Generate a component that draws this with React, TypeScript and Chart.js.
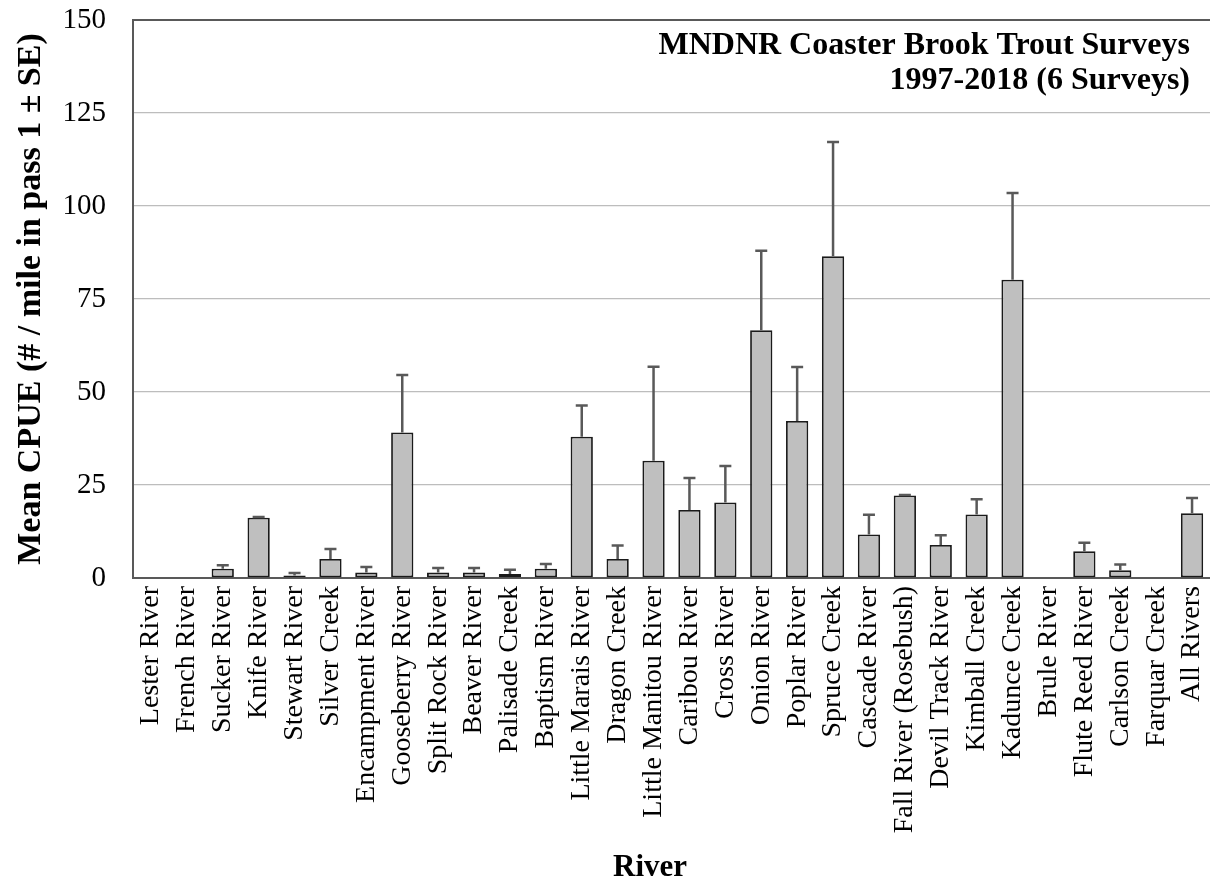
import React, { useEffect, useRef } from "react";
import { Chart, registerables } from "chart.js";

Chart.register(...registerables);

const rivers = [
  "Lester River",
  "French River",
  "Sucker River",
  "Knife River",
  "Stewart River",
  "Silver Creek",
  "Encampment River",
  "Gooseberry River",
  "Split Rock River",
  "Beaver River",
  "Palisade Creek",
  "Baptism River",
  "Little Marais River",
  "Dragon Creek",
  "Little Manitou River",
  "Caribou River",
  "Cross River",
  "Onion River",
  "Poplar River",
  "Spruce Creek",
  "Cascade River",
  "Fall River (Rosebush)",
  "Devil Track River",
  "Kimball Creek",
  "Kadunce Creek",
  "Brule River",
  "Flute Reed River",
  "Carlson Creek",
  "Farquar Creek",
  "All Rivers",
];

const meanCpue = [
  0, 0, 2.5, 16.2, 0.7, 5.1, 1.45, 39.1, 1.45, 1.45, 1.1, 2.5, 38.0, 5.1, 31.5,
  18.3, 20.3, 66.6, 42.2, 86.5, 11.7, 22.2, 8.9, 17.1, 80.2, 0, 7.2, 2.05, 0, 17.4,
];

const seCpue = [
  0, 0, 0.9, 0.2, 0.65, 2.7, 1.5, 15.5, 1.25, 1.25, 1.15, 1.25, 8.4, 3.65, 25.3,
  8.6, 9.8, 21.4, 14.5, 30.7, 5.3, 0.1, 2.6, 4.1, 23.3, 0, 2.3, 1.6, 0, 4.1,
];

const yTickValues = [0, 25, 50, 75, 100, 125, 150];
const titleLines = ["MNDNR Coaster Brook Trout Surveys", "1997-2018 (6 Surveys)"];
const xAxisTitle = "River";
const yAxisTitle = "Mean CPUE (# / mile in pass 1 \u00B1 SE)";

const SERIF = "'Liberation Serif', 'Times New Roman', serif";

const errorBarPlugin = {
  id: "errorBars",
  afterDatasetsDraw(chart: any) {
    const ctx = chart.ctx;
    const yScale = chart.scales.y;
    const meta = chart.getDatasetMeta(0);
    ctx.save();
    ctx.strokeStyle = "#595959";
    ctx.lineWidth = 2.5;
    meta.data.forEach((bar: any, i: number) => {
      const m = meanCpue[i];
      const se = seCpue[i];
      if (!m && !se) return;
      const x = bar.x;
      const yTop = yScale.getPixelForValue(m + se);
      const yBase = yScale.getPixelForValue(m);
      ctx.beginPath();
      ctx.moveTo(x, yBase);
      ctx.lineTo(x, yTop);
      ctx.moveTo(x - 6, yTop);
      ctx.lineTo(x + 6, yTop);
      ctx.stroke();
    });
    ctx.restore();
  },
};

const framePlugin = {
  id: "frameAndTitles",
  afterDraw(chart: any) {
    const ctx = chart.ctx;
    const area = chart.chartArea;
    ctx.save();
    ctx.strokeStyle = "#595959";
    ctx.lineWidth = 2;
    ctx.beginPath();
    ctx.moveTo(area.left - 1, area.top);
    ctx.lineTo(area.right, area.top);
    ctx.stroke();

    ctx.fillStyle = "#000";
    ctx.font = `bold 32px ${SERIF}`;
    ctx.textAlign = "right";
    ctx.textBaseline = "middle";
    ctx.fillText(titleLines[0], area.right - 20, 46);
    ctx.fillText(titleLines[1], area.right - 20, 81);

    ctx.font = `bold 31px ${SERIF}`;
    ctx.textAlign = "center";
    ctx.fillText(xAxisTitle, 650, 868);
    ctx.restore();
  },
};

export default function App() {
  const canvasRef = useRef<HTMLCanvasElement | null>(null);

  useEffect(() => {
    document.body.style.margin = "0";
    const canvas = canvasRef.current;
    if (!canvas) return;
    const chart = new Chart(canvas, {
      type: "bar",
      data: {
        labels: rivers,
        datasets: [
          {
            label: "Mean CPUE",
            data: meanCpue,
            backgroundColor: "#bfbfbf",
            borderColor: "#1a1a1a",
            borderWidth: 1.8,
            borderSkipped: false,
            categoryPercentage: 1.0,
            barPercentage: 0.62,
          },
        ],
      },
      options: {
        responsive: false,
        maintainAspectRatio: false,
        animation: false,
        devicePixelRatio: 1,
        layout: { padding: { left: 7, top: 20, right: 0, bottom: 0 } },
        plugins: {
          legend: { display: false },
          tooltip: { enabled: false },
          title: { display: false },
        },
        scales: {
          x: {
            grid: { display: false, drawTicks: false },
            border: { display: true, color: "#595959", width: 2 },
            ticks: {
              autoSkip: false,
              maxRotation: 90,
              minRotation: 90,
              padding: 8,
              color: "#000",
              font: { family: SERIF, size: 28 },
            },
            afterFit(scale: any) {
              scale.height = 318;
              scale.paddingLeft = 0;
              scale.paddingRight = 0;
            },
          },
          y: {
            min: 0,
            max: 150,
            afterBuildTicks(scale: any) {
              scale.ticks = yTickValues.map((v) => ({ value: v }));
            },
            grid: {
              drawTicks: false,
              color: (c: any) =>
                c.tick && (c.tick.value === 0 || c.tick.value === 150)
                  ? "rgba(0,0,0,0)"
                  : "#bdbdbd",
              lineWidth: 1.3,
            },
            border: { display: true, color: "#595959", width: 2 },
            ticks: {
              padding: 27,
              color: "#000",
              font: { family: SERIF, size: 29 },
            },
            title: {
              display: true,
              text: yAxisTitle,
              color: "#000",
              font: { family: SERIF, size: 34, weight: "bold" },
            },
            afterFit(scale: any) {
              scale.width = 126;
              scale.paddingTop = 0;
              scale.paddingBottom = 0;
            },
          },
        },
      },
      plugins: [errorBarPlugin, framePlugin],
    });
    return () => chart.destroy();
  }, []);

  return (
    <div style={{ width: 1210, height: 896 }}>
      <canvas ref={canvasRef} width={1210} height={896} style={{ display: "block" }} />
    </div>
  );
}
